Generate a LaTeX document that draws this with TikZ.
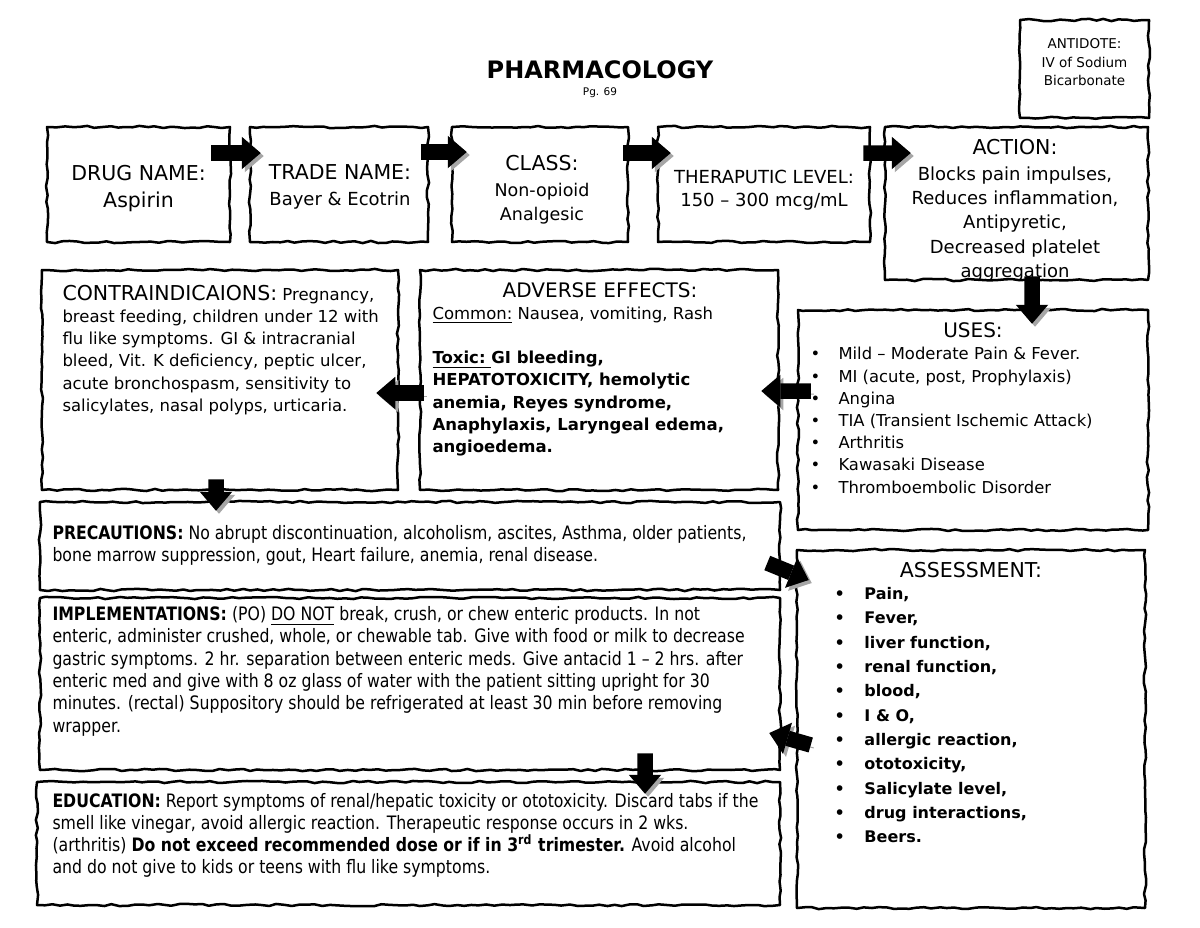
\documentclass[tikz,border=0pt]{standalone}
\usepackage{fontspec}
\setmainfont{DejaVu Sans}
\newfontfamily\condfont{DejaVu Sans}[FakeStretch=0.85]
\usetikzlibrary{calc}
\usetikzlibrary{positioning}
\usetikzlibrary{arrows.meta}
\usetikzlibrary{decorations.pathmorphing}

\begin{document}
\begin{tikzpicture}[x=0.4pt, y=-0.4pt,
        roughbox/.style={draw, line width=1pt, line join=round, inner sep=0pt,
            decorate, decoration={random steps, segment length=3pt, amplitude=0.45pt}},
        fatarrow/.style={line width=6.2pt, -{Triangle[length=7.6pt, width=13pt, line width=0pt]},
            preaction={draw=black!35, transform canvas={shift={(1.2pt,-1.2pt)}}}},
        txt/.style={inner sep=0pt, align=left, anchor=north west},
        ctxt/.style={inner sep=0pt, align=center, anchor=north}]
            \pgfmathsetseed{7}
            \fill[white] (0,0) rectangle (1200,927);
            \useasboundingbox (0,0) rectangle (1200,927);

            \node[inner sep=0pt, font=\bfseries\fontsize{9.6}{11.2}\selectfont] (title) at (600,70) {PHARMACOLOGY};
            \node[ctxt, font=\fontsize{4.2}{4.8}\selectfont] (page) at (600,87) {Pg. 69};

            \node[roughbox, minimum width=51.6pt, minimum height=39.2pt] (antidote) at (1084.5,69) {};
            \node[roughbox, minimum width=73.2pt, minimum height=46pt] (drug) at (138.5,184.5) {};
            \node[roughbox, minimum width=71.2pt, minimum height=46pt] (trade) at (339,184.5) {};
            \node[roughbox, minimum width=70.4pt, minimum height=46pt] (class) at (540,184.5) {};
            \node[roughbox, minimum width=84.8pt, minimum height=46pt] (thera) at (764,184.5) {};
            \node[roughbox, minimum width=105.2pt, minimum height=61.2pt] (action) at (1016.5,203.5) {};
            \node[roughbox, minimum width=142.4pt, minimum height=88pt] (contra) at (220,380) {};
            \node[roughbox, minimum width=143.2pt, minimum height=88pt] (adverse) at (599,380) {};
            \node[roughbox, minimum width=140pt, minimum height=88pt] (uses) at (973,420) {};
            \node[roughbox, minimum width=296pt, minimum height=35.2pt] (prec) at (410,546) {};
            \node[roughbox, minimum width=296pt, minimum height=68.8pt] (impl) at (410,684) {};
            \node[roughbox, minimum width=297.2pt, minimum height=49.2pt] (edu) at (408.5,843.5) {};
            \node[roughbox, minimum width=139.2pt, minimum height=143.2pt] (assess) at (971,729) {};

            \node[ctxt, font=\fontsize{5.4}{7.4}\selectfont] (antidotetxt) at (1084.5,38) {ANTIDOTE:\\IV of Sodium\\Bicarbonate};
            \node[ctxt, font=\fontsize{8.2}{10.8}\selectfont] (drugtxt) at (138.5,164.5) {DRUG NAME:\\Aspirin};
            \node[ctxt, font=\fontsize{7.2}{10.4}\selectfont] (tradetxt) at (340,164.5) {{\fontsize{8.2}{10.4}\selectfont TRADE NAME:}\\Bayer \& Ecotrin};
            \node[ctxt, font=\fontsize{7}{9.8}\selectfont] (classtxt) at (542,154.5) {{\fontsize{8.2}{10.4}\selectfont CLASS:}\\[0.6pt]Non-opioid\\Analgesic};
            \node[ctxt, font=\fontsize{7.2}{9.2}\selectfont] (theratxt) at (764,169.5) {THERAPUTIC LEVEL:\\150 – 300 mcg/mL};
            \node[ctxt, font=\fontsize{7.2}{9.68}\selectfont] (actiontxt) at (1015,138.5) {{\fontsize{8.2}{10.4}\selectfont ACTION:}\\[0.8pt]Blocks pain impulses,\\Reduces inflammation,\\Antipyretic,\\Decreased platelet\\aggregation};

            \node[txt, font=\fontsize{6.6}{8.88}\selectfont] (contratxt) at (62,284.5) {{\fontsize{8.2}{8.8}\selectfont CONTRAINDICAIONS:} Pregnancy,\\breast feeding, children under 12 with\\flu like symptoms. GI \& intracranial\\bleed, Vit. K deficiency, peptic ulcer,\\acute bronchospasm, sensitivity to\\salicylates, nasal polyps, urticaria.};

            \node[inner sep=0pt, font=\fontsize{8}{8.8}\selectfont] (advtitle) at (600,290) {ADVERSE EFFECTS:};
            \node[txt, font=\fontsize{6.6}{8.92}\selectfont] (advtxt) at (432,306) {\underline{Common:} Nausea, vomiting, Rash\\[8.92pt]\textbf{\underline{Toxic:\ }GI bleeding,}\\\textbf{HEPATOTOXICITY, hemolytic}\\\textbf{anemia, Reyes syndrome,}\\\textbf{Anaphylaxis, Laryngeal edema,}\\\textbf{angioedema.}};

            \node[inner sep=0pt, font=\fontsize{8}{8.8}\selectfont] (usestitle) at (973,330) {USES:};
            \node[txt, font=\fontsize{6.56}{8.88}\selectfont] (usestxt) at (810,347) {\makebox[11.2pt][l]{\textbullet}Mild – Moderate Pain \& Fever.\\\makebox[11.2pt][l]{\textbullet}MI (acute, post, Prophylaxis)\\\makebox[11.2pt][l]{\textbullet}Angina\\\makebox[11.2pt][l]{\textbullet}TIA (Transient Ischemic Attack)\\\makebox[11.2pt][l]{\textbullet}Arthritis\\\makebox[11.2pt][l]{\textbullet}Kawasaki Disease\\\makebox[11.2pt][l]{\textbullet}Thromboembolic Disorder};

            \node[inner sep=0pt, font=\fontsize{8.2}{8.8}\selectfont] (assesstitle) at (971,570) {ASSESSMENT:};
            \node[txt, font=\bfseries\fontsize{6.4}{9.72}\selectfont] (assesstxt) at (834,587) {\makebox[12pt][l]{\textbullet}Pain,\\\makebox[12pt][l]{\textbullet}Fever,\\\makebox[12pt][l]{\textbullet}liver function,\\\makebox[12pt][l]{\textbullet}renal function,\\\makebox[12pt][l]{\textbullet}blood,\\\makebox[12pt][l]{\textbullet}I \& O,\\\makebox[12pt][l]{\textbullet}allergic reaction,\\\makebox[12pt][l]{\textbullet}ototoxicity,\\\makebox[12pt][l]{\textbullet}Salicylate level,\\\makebox[12pt][l]{\textbullet}drug interactions,\\\makebox[12pt][l]{\textbullet}Beers.};

            \node[txt, font=\condfont\fontsize{7.4}{8.8}\selectfont] (prectxt) at (52,525) {\textbf{PRECAUTIONS:} No abrupt discontinuation, alcoholism, ascites, Asthma, older patients,\\bone marrow suppression, gout, Heart failure, anemia, renal disease.};
            \node[txt, font=\condfont\fontsize{7.4}{8.92}\selectfont] (impltxt) at (52,606) {\textbf{IMPLEMENTATIONS:} (PO) \underline{DO NOT} break, crush, or chew enteric products. In not\\enteric, administer crushed, whole, or chewable tab. Give with food or milk to decrease\\gastric symptoms. 2 hr. separation between enteric meds. Give antacid 1 – 2 hrs. after\\enteric med and give with 8 oz glass of water with the patient sitting upright for 30\\minutes. (rectal) Suppository should be refrigerated at least 30 min before removing\\wrapper.};
            \node[txt, font=\condfont\fontsize{7.4}{8.8}\selectfont] (edutxt) at (52,793) {\textbf{EDUCATION:} Report symptoms of renal/hepatic toxicity or ototoxicity. Discard tabs if the\\smell like vinegar, avoid allergic reaction. Therapeutic response occurs in 2 wks.\\(arthritis) \textbf{Do not exceed recommended dose or if in 3\textsuperscript{rd} trimester.} Avoid alcohol\\and do not give to kids or teens with flu like symptoms.};

            \draw[fatarrow] ([xshift=-8pt,yshift=12.6pt]drug.east) -- ([xshift=4.8pt,yshift=12.6pt]trade.west);
            \draw[fatarrow] ([xshift=-3.2pt,yshift=13pt]trade.east) -- ([xshift=6.4pt,yshift=13pt]class.west);
            \draw[fatarrow] ([xshift=-2.4pt,yshift=12.6pt]class.east) -- ([xshift=5.6pt,yshift=12.6pt]thera.west);
            \draw[fatarrow] ([xshift=-3.2pt,yshift=12.6pt]thera.east) -- ([xshift=10.8pt,yshift=20.2pt]action.west);
            \draw[fatarrow] ([xshift=6.2pt,yshift=2pt]action.south) -- ([xshift=23.6pt,yshift=-6pt]uses.north);
            \draw[fatarrow] ([xshift=5.6pt,yshift=11.6pt]uses.west) -- ([xshift=-7.2pt,yshift=-4.4pt]adverse.east);
            \draw[fatarrow] ([xshift=2pt,yshift=-5.2pt]adverse.west) -- ([xshift=-9.2pt,yshift=-5.2pt]contra.east);
            \draw[fatarrow] ([xshift=-1.6pt,yshift=4.8pt]contra.south) -- ([xshift=-77.6pt,yshift=-4pt]prec.north);
            \draw[fatarrow] ([xshift=-5.6pt,yshift=-6.8pt]prec.east) -- ([xshift=5.2pt,yshift=59.6pt]assess.west);
            \draw[fatarrow] ([xshift=6pt,yshift=-6.4pt]assess.west) -- ([xshift=-4.8pt,yshift=-19.6pt]impl.east);
            \draw[fatarrow] ([xshift=94pt,yshift=7.2pt]impl.south) -- ([xshift=94.6pt,yshift=-5.2pt]edu.north);
        \end{tikzpicture}
\end{document}
